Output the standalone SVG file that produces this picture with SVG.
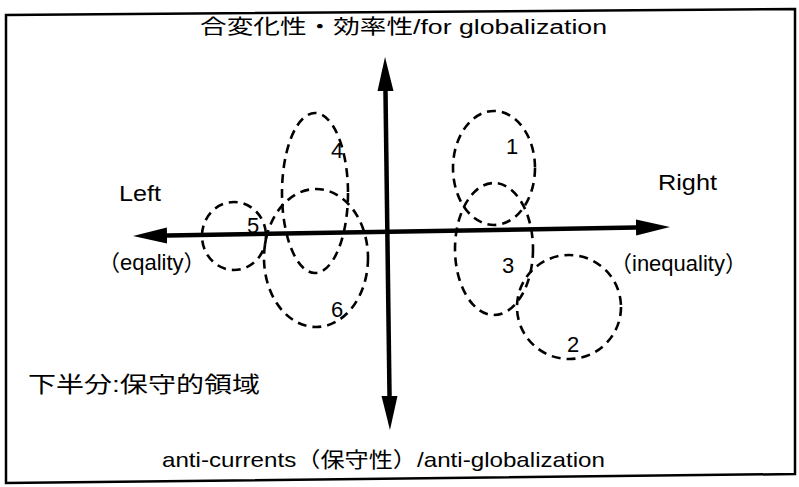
<svg xmlns="http://www.w3.org/2000/svg" width="799" height="487" viewBox="0 0 799 487">
<style>
  text { font-family: "Liberation Sans", "Noto Sans CJK JP", sans-serif; fill: #000; }
  .lbl { font-size: 22px; }
  .num { font-size: 22px; text-anchor: middle; }
  .zone { fill: none; stroke: #000; stroke-width: 2.6; stroke-dasharray: 9 6; }
  .axis { fill: none; stroke: #000; stroke-width: 4.5; }
  .frame { fill: #fff; stroke: #000; stroke-width: 2.5; }
</style>
<defs>
  <marker id="arr" markerUnits="userSpaceOnUse" markerWidth="36" markerHeight="18" refX="14" refY="8" orient="auto-start-reverse" viewBox="0 0 36 16">
    <path d="M0,0 L34,8 L0,16 z" fill="#000"/>
  </marker>
</defs>
<rect width="799" height="487" fill="#fff"/>
<polygon class="frame" points="6,15 795,9 795,474 6,483"/>

<g id="axes">
  <line class="axis" x1="153" y1="235.7" x2="650" y2="227.3" marker-start="url(#arr)" marker-end="url(#arr)"/>
  <line class="axis" x1="385.3" y1="77" x2="389.7" y2="410" marker-start="url(#arr)" marker-end="url(#arr)"/>
</g>

<g id="labels">
  <text x="200" y="34" font-size="20" textLength="407" lengthAdjust="spacingAndGlyphs">合変化性・効率性/for globalization</text>
  <text class="lbl" x="119" y="201" textLength="42" lengthAdjust="spacingAndGlyphs">Left</text>
  <text class="lbl" x="98" y="270">（eqality）</text>
  <text class="lbl" x="658" y="190" textLength="59" lengthAdjust="spacingAndGlyphs">Right</text>
  <text class="lbl" x="610" y="271">（inequality）</text>
  <text x="28" y="392" font-size="22" textLength="232" lengthAdjust="spacingAndGlyphs">下半分:保守的領域</text>
  <text x="162" y="467" font-size="21" textLength="443" lengthAdjust="spacingAndGlyphs">anti-currents（保守性）/anti-globalization</text>
</g>

<g id="zone1">
  <ellipse class="zone" cx="494" cy="168" rx="41" ry="57"/>
  <text class="num" x="512" y="154">1</text>
</g>
<g id="zone2">
  <ellipse class="zone" cx="569" cy="307" rx="52" ry="52"/>
  <text class="num" x="573" y="352">2</text>
</g>
<g id="zone3">
  <ellipse class="zone" cx="494" cy="249" rx="39" ry="66"/>
  <text class="num" x="508" y="273">3</text>
</g>
<g id="zone4">
  <ellipse class="zone" cx="315" cy="193" rx="33" ry="80"/>
  <text class="num" x="337" y="158">4</text>
</g>
<g id="zone5">
  <ellipse class="zone" cx="234" cy="236" rx="32" ry="34"/>
  <text class="num" x="253" y="233">5</text>
</g>
<g id="zone6">
  <ellipse class="zone" cx="316" cy="258" rx="52" ry="69"/>
  <text class="num" x="337" y="317">6</text>
</g>
</svg>
